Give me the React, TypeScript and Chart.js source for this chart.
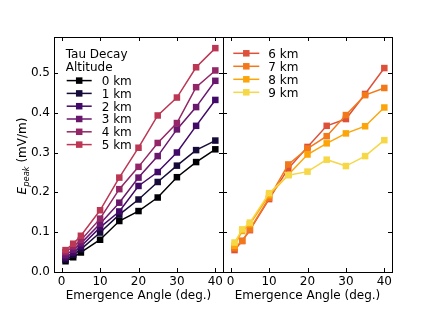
import React, { useEffect, useRef } from "react";
import { Chart, registerables } from "chart.js";

Chart.register(...registerables);

const angles = [1, 3, 5, 10, 15, 20, 25, 30, 35, 40];

const labelsLeft = ["0 km", "1 km", "2 km", "3 km", "4 km", "5 km"];
const labelsRight = ["6 km", "7 km", "8 km", "9 km"];

const alt0 = [0.027, 0.037, 0.049, 0.081, 0.128, 0.153, 0.187, 0.238, 0.276, 0.308];
const alt1 = [0.031, 0.043, 0.057, 0.099, 0.144, 0.182, 0.226, 0.267, 0.306, 0.330];
const alt2 = [0.036, 0.049, 0.064, 0.112, 0.152, 0.216, 0.251, 0.300, 0.367, 0.432];
const alt3 = [0.042, 0.056, 0.072, 0.121, 0.174, 0.237, 0.291, 0.358, 0.414, 0.480];
const alt4 = [0.050, 0.064, 0.080, 0.134, 0.208, 0.264, 0.324, 0.374, 0.464, 0.506];
const alt5 = [0.055, 0.071, 0.091, 0.155, 0.237, 0.312, 0.393, 0.438, 0.514, 0.562];

const alt6 = [0.055, 0.078, 0.105, 0.183, 0.260, 0.314, 0.367, 0.384, 0.447, 0.512];
const alt7 = [0.060, 0.078, 0.107, 0.186, 0.270, 0.310, 0.341, 0.394, 0.444, 0.462];
const alt8 = [0.066, 0.103, 0.120, 0.193, 0.244, 0.295, 0.323, 0.348, 0.366, 0.413];
const alt9 = [0.074, 0.107, 0.124, 0.198, 0.243, 0.252, 0.282, 0.266, 0.291, 0.331];

const seriesLeft = [alt0, alt1, alt2, alt3, alt4, alt5];
const seriesRight = [alt6, alt7, alt8, alt9];

const colorsLeft = ["#000004", "#160b39", "#420a68", "#6a176e", "#932667", "#bc3754"];
const colorsRight = ["#dd513a", "#f37819", "#fca50a", "#f6d746"];

const xTicks = [0, 10, 20, 30, 40];
const yTicks = [0, 0.1, 0.2, 0.3, 0.4, 0.5];

const FONT = "'DejaVu Sans', sans-serif";

const framePlugin = {
  id: "frameTicks",
  afterDatasetsDraw(chart: any) {
    const { ctx, chartArea: a, scales } = chart;
    const L = 4;
    ctx.save();
    ctx.strokeStyle = "#000";
    ctx.lineWidth = 1;
    ctx.beginPath();
    for (const v of xTicks) {
      const px = Math.round(scales.x.getPixelForValue(v)) + 0.5;
      ctx.moveTo(px, a.bottom);
      ctx.lineTo(px, a.bottom - L);
      ctx.moveTo(px, a.top);
      ctx.lineTo(px, a.top + L);
    }
    for (const v of yTicks) {
      const py = Math.round(scales.y.getPixelForValue(v)) + 0.5;
      ctx.moveTo(a.left, py);
      ctx.lineTo(a.left + L, py);
      ctx.moveTo(a.right, py);
      ctx.lineTo(a.right - L, py);
    }
    ctx.stroke();
    ctx.strokeRect(a.left + 0.5, a.top + 0.5, a.right - a.left, a.bottom - a.top);
    ctx.restore();
  },
};

const legendPlugin = {
  id: "customLegend",
  afterDraw(chart: any, _args: any, opts: any) {
    const { ctx } = chart;
    ctx.save();
    ctx.font = `12px ${FONT}`;
    ctx.fillStyle = "#000";
    ctx.textBaseline = "alphabetic";
    ctx.textAlign = "left";
    (opts.title || []).forEach((t: string, i: number) => {
      ctx.fillText(t, opts.titleX, opts.titleY + i * opts.titleStep + 4.3);
    });
    chart.data.datasets.forEach((ds: any, i: number) => {
      const y = opts.rowY + i * opts.rowStep;
      ctx.strokeStyle = ds.borderColor;
      ctx.lineWidth = 1.5;
      ctx.beginPath();
      ctx.moveTo(opts.lineStart, y);
      ctx.lineTo(opts.lineEnd, y);
      ctx.stroke();
      const mx = (opts.lineStart + opts.lineEnd) / 2;
      ctx.fillStyle = ds.borderColor;
      ctx.fillRect(mx - 3.25, y - 3.25, 6.5, 6.5);
      ctx.fillStyle = "#000";
      ctx.fillText(ds.label, opts.textX, y + 4.3);
    });
    ctx.restore();
  },
};

const yLabelPlugin = {
  id: "yLabel",
  afterDraw(chart: any, _args: any, opts: any) {
    if (!opts || !opts.show) return;
    const { ctx } = chart;
    ctx.save();
    ctx.translate(opts.x, opts.y);
    ctx.rotate(-Math.PI / 2);
    ctx.fillStyle = "#000";
    ctx.textBaseline = "alphabetic";
    ctx.textAlign = "left";
    const fE = `italic 12px ${FONT}`;
    const fS = `italic 8.4px ${FONT}`;
    const fR = `12px ${FONT}`;
    ctx.font = fE;
    const wE = ctx.measureText("E").width;
    ctx.font = fS;
    const wS = ctx.measureText("peak").width;
    ctx.font = fR;
    const wR = ctx.measureText(" (mV/m)").width;
    let u = -(wE + wS + wR) / 2;
    const base = 4;
    ctx.font = fE;
    ctx.fillText("E", u, base);
    u += wE;
    ctx.font = fS;
    ctx.fillText("peak", u, base + 2.5);
    u += wS;
    ctx.font = fR;
    ctx.fillText(" (mV/m)", u, base);
    ctx.restore();
  },
};

function makeConfig(series: number[][], labels: string[], colors: string[], left: boolean, legendOpts: any) {
  const datasets = series.map((vals, i) => ({
    label: labels[i],
    data: angles.map((a, j) => ({ x: a, y: vals[j] })),
    borderColor: colors[i],
    backgroundColor: colors[i],
    pointBackgroundColor: colors[i],
    pointBorderColor: colors[i],
    pointBorderWidth: 0,
    pointStyle: "rect",
    pointRadius: 4.6,
    borderWidth: 1.5,
    tension: 0,
    order: -i,
  }));
  const tickFont = { family: FONT, size: 12 };
  return {
    type: "line",
    data: { datasets },
    plugins: [framePlugin, legendPlugin, yLabelPlugin],
    options: {
      responsive: false,
      animation: false,
      events: [],
      layout: {
        padding: left
          ? { left: 0, right: 213, top: 37, bottom: 0 }
          : { left: 223, right: 44, top: 37, bottom: 0 },
      },
      plugins: {
        legend: { display: false },
        tooltip: { enabled: false },
        customLegend: legendOpts,
        yLabel: { show: left, x: 22, y: 156 },
      },
      scales: {
        x: {
          type: "linear",
          min: -2,
          max: 42,
          afterBuildTicks: (s: any) => {
            s.ticks = xTicks.map((v) => ({ value: v }));
          },
          afterFit: (s: any) => {
            s.height = 40;
          },
          grid: { display: false, drawTicks: false },
          border: { display: false },
          ticks: {
            padding: 3,
            color: "#000",
            font: tickFont,
            maxRotation: 0,
            autoSkip: false,
            callback: (v: any) => String(v),
          },
          title: {
            display: true,
            text: "Emergence Angle (deg.)",
            color: "#000",
            font: tickFont,
            padding: { top: 0, bottom: 9 },
          },
        },
        y: {
          type: "linear",
          display: left,
          min: 0,
          max: 0.59,
          afterBuildTicks: (s: any) => {
            s.ticks = yTicks.map((v) => ({ value: v }));
          },
          afterFit: (s: any) => {
            s.width = left ? 54 : 0;
          },
          grid: { display: false, drawTicks: false },
          border: { display: false },
          ticks: {
            padding: 4,
            color: "#000",
            font: tickFont,
            autoSkip: false,
            callback: (v: any) => Number(v).toFixed(1),
          },
        },
      },
    },
  };
}

export default function App() {
  const leftRef = useRef<HTMLCanvasElement>(null);
  const rightRef = useRef<HTMLCanvasElement>(null);

  useEffect(() => {
    const c1 = new Chart(
      leftRef.current as HTMLCanvasElement,
      makeConfig(seriesLeft, labelsLeft, colorsLeft, true, {
        title: ["Tau Decay", "Altitude"],
        titleX: 65.7,
        titleY: 54,
        titleStep: 12.5,
        rowY: 80.6,
        rowStep: 12.8,
        lineStart: 66.7,
        lineEnd: 91.7,
        textX: 101.7,
      }) as any
    );
    const c2 = new Chart(
      rightRef.current as HTMLCanvasElement,
      makeConfig(seriesRight, labelsRight, colorsRight, false, {
        title: [],
        titleX: 0,
        titleY: 0,
        titleStep: 0,
        rowY: 53.3,
        rowStep: 13,
        lineStart: 233.3,
        lineEnd: 259.3,
        textX: 268.3,
      }) as any
    );
    return () => {
      c1.destroy();
      c2.destroy();
    };
  }, []);

  const cs: React.CSSProperties = { position: "absolute", left: 0, top: 0, width: 436, height: 312 };
  return (
    <div style={{ position: "fixed", left: 0, top: 0, width: 436, height: 312, background: "#fff" }}>
      <canvas ref={leftRef} width={436} height={312} style={cs} />
      <canvas ref={rightRef} width={436} height={312} style={cs} />
    </div>
  );
}
